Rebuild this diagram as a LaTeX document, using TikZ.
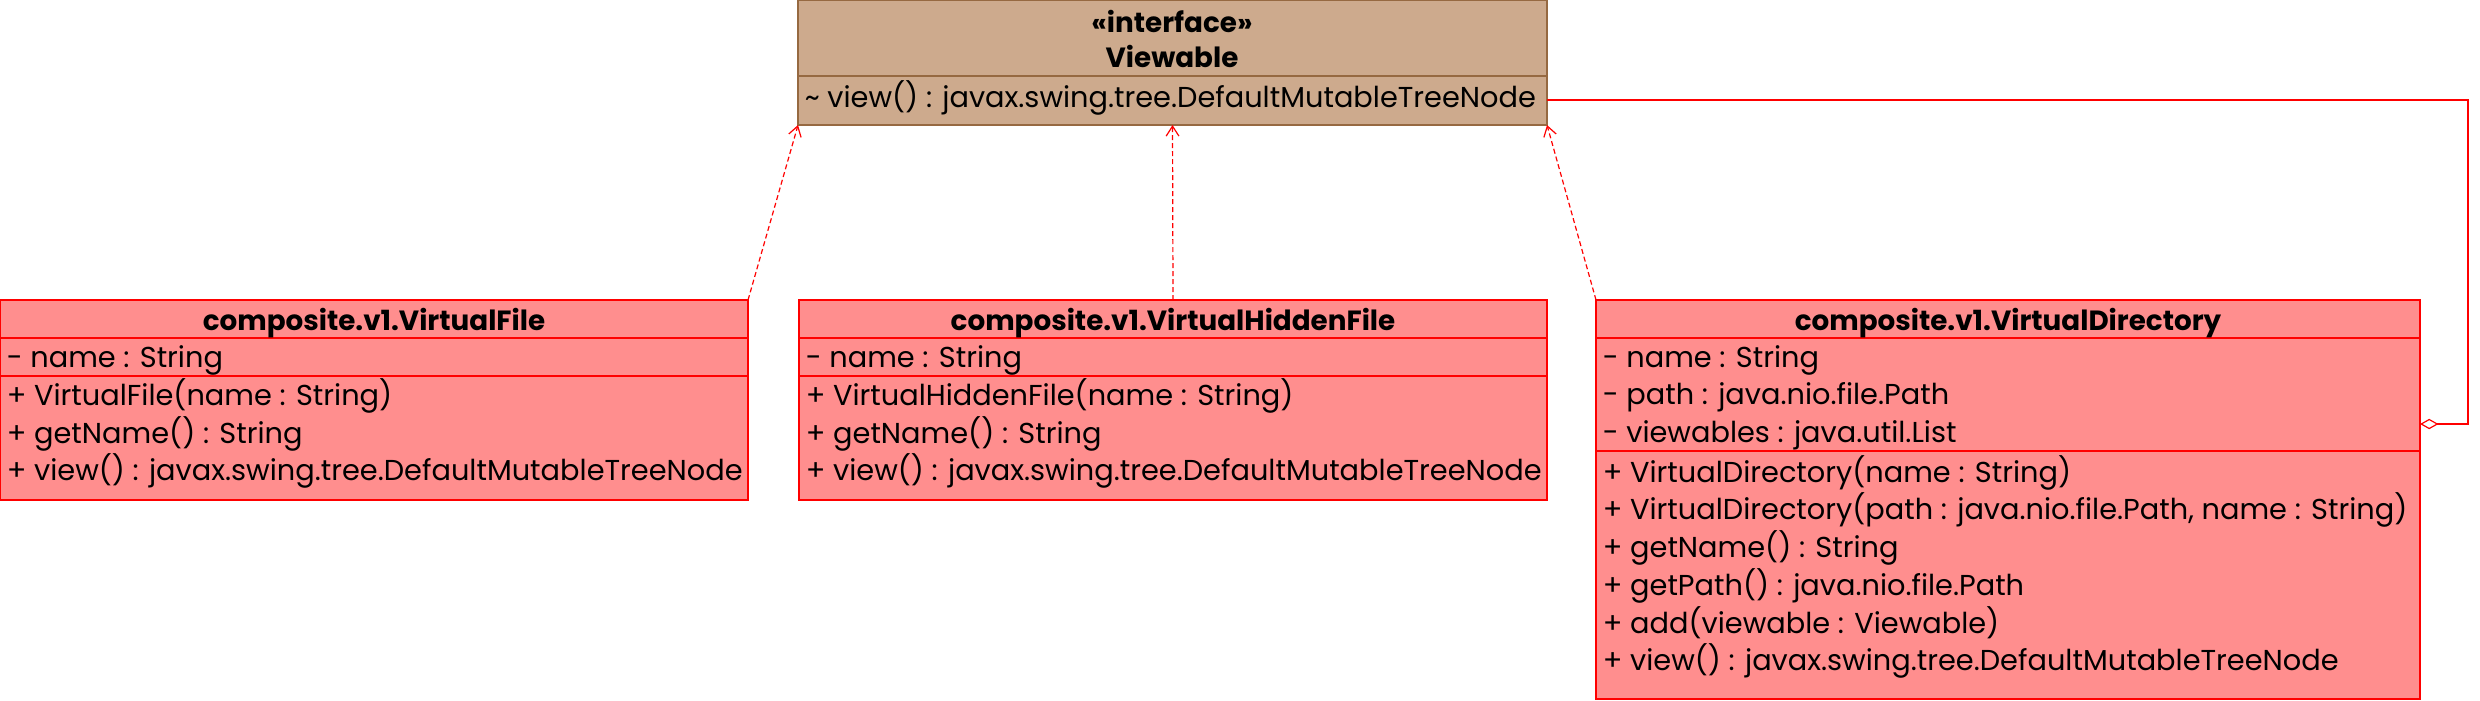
\documentclass[tikz,border=0pt]{standalone}
\usepackage{fontspec}
\setmainfont{Poppins}
\usetikzlibrary{arrows.meta}
\definecolor{tanfill}{RGB}{205,170,141}
\definecolor{tanline}{RGB}{150,105,65}
\definecolor{pinkfill}{RGB}{255,142,142}
\definecolor{umlred}{RGB}{255,0,0}
\begin{document}
\begin{tikzpicture}[x=0.25pt,y=-0.25pt,
  font=\fontsize{7.2}{9}\selectfont,
  classbox/.style={draw=umlred, fill=pinkfill, line width=0.35pt, rectangle, inner sep=0pt, outer sep=0pt, anchor=north west},
  ifcbox/.style={draw=tanline, fill=tanfill, line width=0.35pt, rectangle, inner sep=0pt, outer sep=0pt, anchor=north west},
  sepline/.style={draw=umlred, line width=0.35pt},
  ifcsep/.style={draw=tanline, line width=0.35pt},
  titletext/.style={font=\fontsize{6.95}{9}\selectfont\bfseries, inner sep=0pt, text height=0.72em, text depth=0.22em},
  rowtext/.style={anchor=west, inner sep=0pt, text height=0.72em, text depth=0.22em},
  realize/.style={draw=umlred, line width=0.3pt, dash pattern=on 1.25pt off 0.75pt, -{Straight Barb[length=2.5pt,width=3.2pt]}},
  aggr/.style={draw=umlred, line width=0.3pt, {Diamond[open,length=4.6pt,width=2.6pt]}-}
]
\useasboundingbox (0,0) rectangle (2480,700);

% interface
\node[ifcbox, minimum width=187.25pt, minimum height=31.25pt] (ifc) at (798,0) {};
\draw[ifcsep] (798,76) -- (1547,76);
\node[titletext] (ifcst) at (1172,22) {«interface»};
\node[titletext] (ifcname) at (1172,57) {Viewable};
\node[rowtext] (ifcm) at (804,97) {\textasciitilde{} view() : javax.swing.tree.DefaultMutableTreeNode};

% VirtualFile
\node[classbox, minimum width=187pt, minimum height=50pt] (vf) at (0,300) {};
\draw[sepline] (0,338) -- (748,338);
\draw[sepline] (0,376) -- (748,376);
\node[titletext] (vft) at (374,320) {composite.v1.VirtualFile};
\node[rowtext] (vfa1) at (6,357) {- name : String};
\node[rowtext] (vfm1) at (6,395) {+ VirtualFile(name : String)};
\node[rowtext] (vfm2) at (6,433) {+ getName() : String};
\node[rowtext] (vfm3) at (6,470) {+ view() : javax.swing.tree.DefaultMutableTreeNode};

% VirtualHiddenFile
\node[classbox, minimum width=187pt, minimum height=50pt] (vhf) at (799,300) {};
\draw[sepline] (799,338) -- (1547,338);
\draw[sepline] (799,376) -- (1547,376);
\node[titletext] (vhft) at (1173,320) {composite.v1.VirtualHiddenFile};
\node[rowtext] (vhfa1) at (805,357) {- name : String};
\node[rowtext] (vhfm1) at (805,395) {+ VirtualHiddenFile(name : String)};
\node[rowtext] (vhfm2) at (805,433) {+ getName() : String};
\node[rowtext] (vhfm3) at (805,470) {+ view() : javax.swing.tree.DefaultMutableTreeNode};

% VirtualDirectory
\node[classbox, minimum width=206pt, minimum height=99.75pt] (vd) at (1596,300) {};
\draw[sepline] (1596,338) -- (2420,338);
\draw[sepline] (1596,451) -- (2420,451);
\node[titletext] (vdt) at (2008,320) {composite.v1.VirtualDirectory};
\node[rowtext] (vda1) at (1602,357) {- name : String};
\node[rowtext] (vda2) at (1602,394) {- path : java.nio.file.Path};
\node[rowtext] (vda3) at (1602,432) {- viewables : java.util.List};
\node[rowtext] (vdm1) at (1602,472) {+ VirtualDirectory(name : String)};
\node[rowtext] (vdm2) at (1602,509) {+ VirtualDirectory(path : java.nio.file.Path, name : String)};
\node[rowtext] (vdm3) at (1602,547) {+ getName() : String};
\node[rowtext] (vdm4) at (1602,585) {+ getPath() : java.nio.file.Path};
\node[rowtext] (vdm5) at (1602,623) {+ add(viewable : Viewable)};
\node[rowtext] (vdm6) at (1602,660) {+ view() : javax.swing.tree.DefaultMutableTreeNode};

% connectors
\draw[realize] (vf.north east) -- (ifc.south west);
\draw[realize] (vhf.north) -- (ifc.south);
\draw[realize] (vd.north west) -- (ifc.south east);
\coordinate (aggS) at (2420,424);
\coordinate (aggE) at (1547,100);
\draw[aggr] (aggS) -- (2468,424) -- (2468,100) -- (aggE);
\end{tikzpicture}
\end{document}
